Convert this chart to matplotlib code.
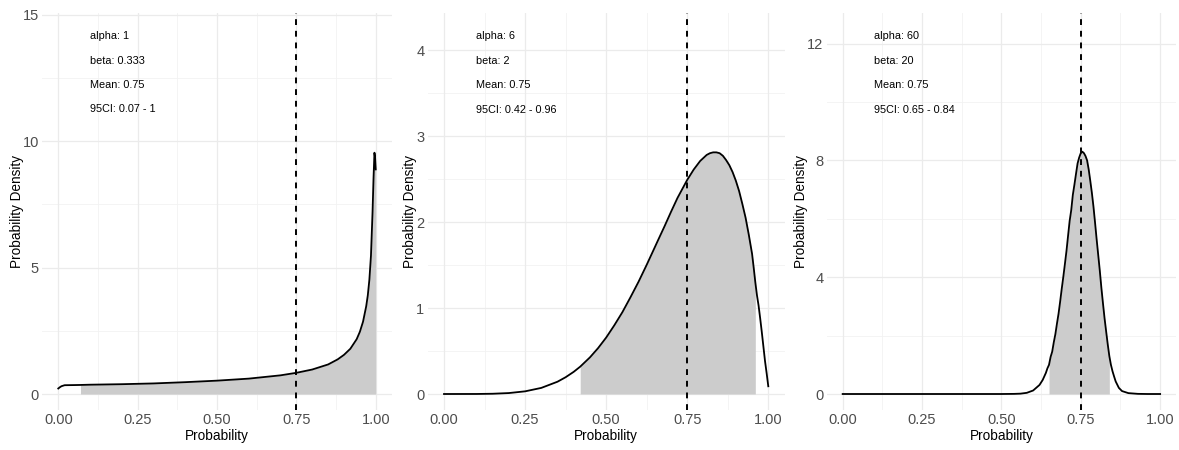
"""Three beta distribution panels with 95% interval shading and a mean line."""

import matplotlib

matplotlib.use("Agg")
import matplotlib.pyplot as plt
import numpy as np

plt.rcParams["font.family"] = ["Liberation Sans", "DejaVu Sans"]

MEAN_LINE = 0.75
X_TICKS = [0.0, 0.25, 0.5, 0.75, 1.0]
X_MINOR = [0.125, 0.375, 0.625, 0.875]

# panel 1 - alpha 1, beta 0.333
x_a = [0.0, 0.005, 0.01, 0.02, 0.05, 0.07, 0.1, 0.2, 0.3, 0.4, 0.5, 0.6, 0.7,
       0.75, 0.8, 0.85, 0.88, 0.9, 0.92, 0.94, 0.95, 0.96, 0.97, 0.975, 0.98,
       0.985, 0.99, 0.993, 0.996, 0.998, 1.0]
y_a = [0.22, 0.27, 0.31, 0.35, 0.355, 0.36, 0.37, 0.39, 0.42, 0.47, 0.53, 0.61,
       0.74, 0.84, 0.97, 1.17, 1.37, 1.55, 1.79, 2.17, 2.46, 2.86, 3.47, 3.90,
       4.52, 5.47, 7.2, 8.5, 9.54, 9.35, 8.88]
ci_a = (0.07, 1.0)
labels_a = ["alpha: 1", "beta: 0.333", "Mean: 0.75", "95CI: 0.07 - 1"]
label_y_a = [14.02, 13.05, 12.09, 11.13]
yticks_a = [0, 5, 10, 15]
yminor_a = [2.5, 7.5, 12.5]
ylim_a = (-0.63, 15.05)

# panel 2 - alpha 6, beta 2
x_b = [0.0, 0.1, 0.15, 0.2, 0.25, 0.3, 0.35, 0.375, 0.4, 0.42, 0.45, 0.475,
       0.5, 0.525, 0.55, 0.575, 0.6, 0.625, 0.65, 0.66, 0.68, 0.7, 0.72, 0.735,
       0.75, 0.77, 0.79, 0.81, 0.82, 0.83, 0.84, 0.85, 0.86, 0.87, 0.88, 0.89,
       0.9, 0.91, 0.92, 0.93, 0.94, 0.95, 0.955, 0.96, 0.965, 0.97, 0.975,
       0.98, 0.985, 0.99, 0.995, 1.0]
y_b = [0.0, 0.0004, 0.003, 0.011, 0.031, 0.071, 0.143, 0.195, 0.258, 0.318,
       0.426, 0.533, 0.656, 0.798, 0.951, 1.125, 1.306, 1.502, 1.706, 1.788,
       1.95, 2.118, 2.28, 2.385, 2.49, 2.61, 2.71, 2.78, 2.80, 2.81, 2.81, 2.80,
       2.77, 2.72, 2.66, 2.58, 2.48, 2.36, 2.21, 2.05, 1.85, 1.63, 1.47, 1.30,
       1.15, 1.03, 0.88, 0.72, 0.55, 0.38, 0.24, 0.09]
ci_b = (0.42, 0.96)
labels_b = ["alpha: 6", "beta: 2", "Mean: 0.75", "95CI: 0.42 - 0.96"]
label_y_b = [4.124, 3.84, 3.56, 3.27]
yticks_b = [0, 1, 2, 3, 4]
yminor_b = [0.5, 1.5, 2.5, 3.5]
ylim_b = (-0.186, 4.427)

# panel 3 - alpha 60, beta 20
x_c = [0.0, 0.5, 0.54, 0.56, 0.58, 0.6, 0.62, 0.63, 0.64, 0.645, 0.65, 0.655,
       0.66, 0.665, 0.67, 0.675, 0.68, 0.685, 0.69, 0.695, 0.7, 0.705, 0.71,
       0.715, 0.72, 0.725, 0.73, 0.735, 0.74, 0.745, 0.75, 0.755, 0.76, 0.765,
       0.77, 0.775, 0.78, 0.785, 0.79, 0.795, 0.8, 0.805, 0.81, 0.815, 0.82,
       0.825, 0.83, 0.835, 0.84, 0.845, 0.85, 0.855, 0.86, 0.87, 0.88, 0.9,
       0.93, 0.96, 1.0]
y_c = [0.0, 0.0, 0.004, 0.012, 0.04, 0.12, 0.31, 0.48, 0.72, 0.88, 1.0, 1.27,
       1.45, 1.77, 2.05, 2.41, 2.75, 3.16, 3.6, 4.01, 4.45, 4.90, 5.42, 5.93,
       6.3, 6.82, 7.17, 7.54, 7.9, 8.1, 8.25, 8.3, 8.25, 8.15, 8.0, 7.69, 7.3,
       6.89, 6.42, 5.87, 5.3, 4.76, 4.22, 3.63, 3.1, 2.59, 2.14, 1.7, 1.3, 1.0,
       0.78, 0.6, 0.43, 0.21, 0.1, 0.03, 0.005, 0.0, 0.0]
ci_c = (0.65, 0.84)
labels_c = ["alpha: 60", "beta: 20", "Mean: 0.75", "95CI: 0.65 - 0.84"]
label_y_c = [12.15, 11.31, 10.47, 9.64]
yticks_c = [0, 4, 8, 12]
yminor_c = [2, 6, 10]
ylim_c = (-0.548, 13.04)

# axes rectangles in figure pixels: left, right (top 13, bottom 410)
PANEL_PX = [(42.4, 391.6), (427.8, 784.5), (826.8, 1176.0)]
FIG_W, FIG_H = 1179, 450


def draw_panel(ax, xs, ys, ci, labels, label_y, yticks, yminor, ylim):
    xs = np.asarray(xs)
    ys = np.asarray(ys)

    ax.set_xlim(-0.05, 1.05)
    ax.set_ylim(*ylim)

    for v in X_MINOR:
        ax.axvline(v, color="#F2F2F2", lw=0.6, zorder=0)
    for v in yminor:
        ax.axhline(v, color="#F2F2F2", lw=0.6, zorder=0)
    for v in X_TICKS:
        ax.axvline(v, color="#EBEBEB", lw=0.9, zorder=0)
    for v in yticks:
        ax.axhline(v, color="#EBEBEB", lw=0.9, zorder=0)

    inside = (xs >= ci[0] - 1e-9) & (xs <= ci[1] + 1e-9)
    ax.fill_between(xs, ys, 0, where=inside, color="#CCCCCC", lw=0, zorder=1)
    ax.plot(xs, ys, color="black", lw=1.3, zorder=3, solid_joinstyle="round")
    ax.axvline(MEAN_LINE, color="black", lw=1.4, linestyle=(0, (3, 3)), zorder=4)

    for text, y in zip(labels, label_y):
        ax.text(0.1, y, text, fontsize=7.8, ha="left", va="baseline", color="black")

    ax.set_xticks(X_TICKS)
    ax.set_xticklabels([f"{v:.2f}" for v in X_TICKS])
    ax.set_yticks(yticks)
    ax.set_yticklabels([str(v) for v in yticks])
    ax.tick_params(length=0, labelsize=10.5, labelcolor="#4D4D4D", pad=2.5)

    ax.set_xlabel("Probability", fontsize=9.8, labelpad=1)
    ax.set_ylabel("Probability Density", fontsize=9.8, labelpad=-1)

    for spine in ax.spines.values():
        spine.set_visible(False)


fig = plt.figure(figsize=(FIG_W / 100, FIG_H / 100), dpi=100)

panels = [
    (x_a, y_a, ci_a, labels_a, label_y_a, yticks_a, yminor_a, ylim_a),
    (x_b, y_b, ci_b, labels_b, label_y_b, yticks_b, yminor_b, ylim_b),
    (x_c, y_c, ci_c, labels_c, label_y_c, yticks_c, yminor_c, ylim_c),
]

top_px, bottom_px = 13.3, 410.0
for (left_px, right_px), args in zip(PANEL_PX, panels):
    rect = [left_px / FIG_W, 1 - bottom_px / FIG_H,
            (right_px - left_px) / FIG_W, (bottom_px - top_px) / FIG_H]
    ax = fig.add_axes(rect)
    draw_panel(ax, *args)

fig.savefig("out.png", dpi=100, facecolor="white")
